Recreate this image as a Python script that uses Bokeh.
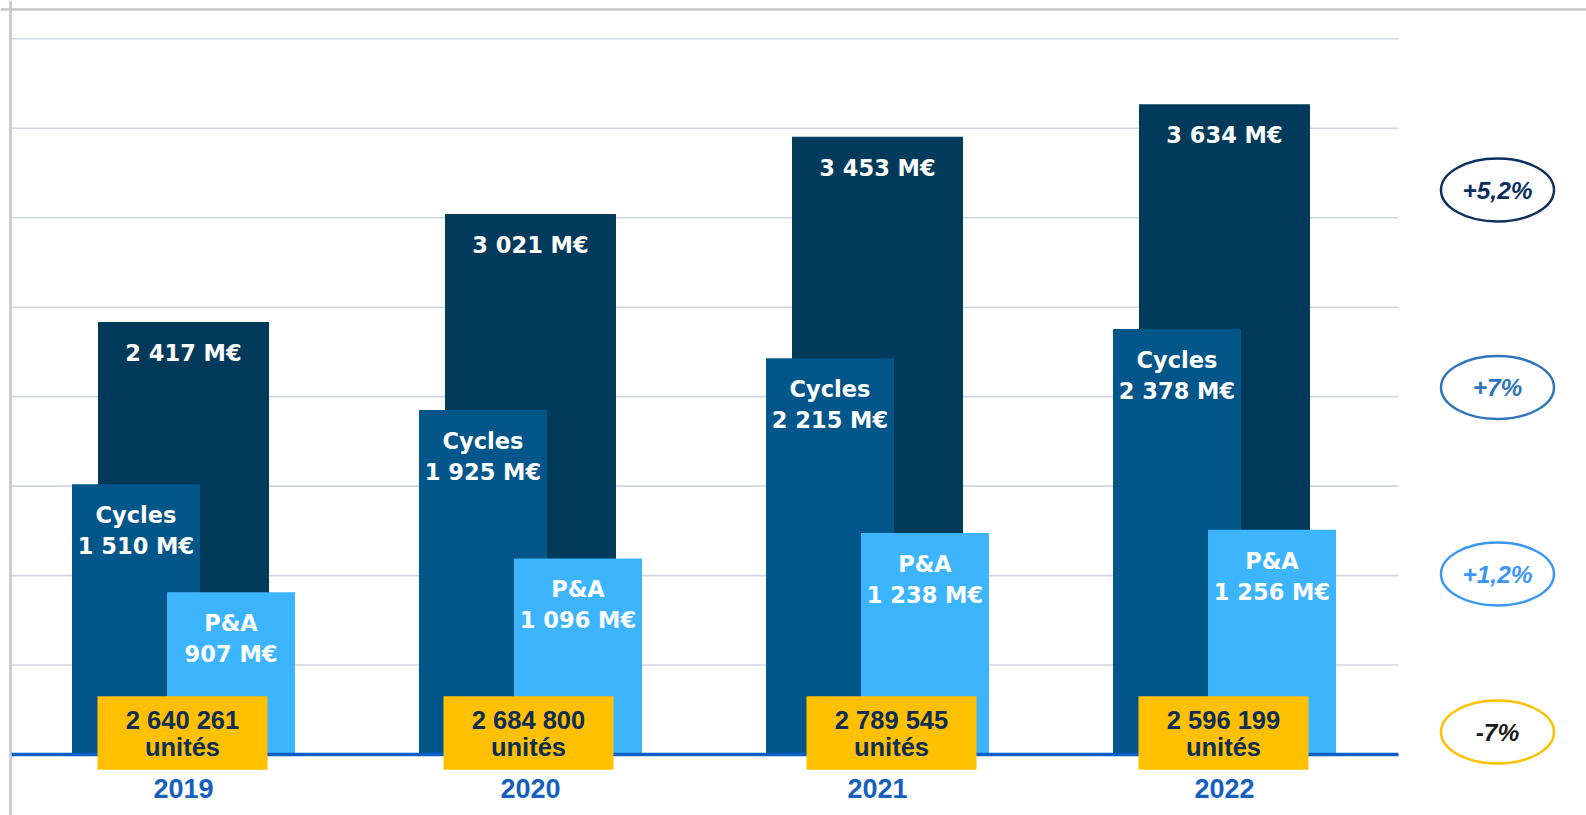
from bokeh.plotting import figure
from bokeh.models import Range1d, Span, ColumnDataSource
from bokeh.core.properties import value
from bokeh.embed import file_html
from bokeh.resources import INLINE

# ---------------- data ----------------
years = ["2019", "2020", "2021", "2022"]
total_values = [2417, 3021, 3453, 3634]      # M€ total
cycles_values = [1510, 1925, 2215, 2378]     # M€ Cycles
pa_values = [907, 1096, 1238, 1256]          # M€ P&A
units_sold = [2640261, 2684800, 2789545, 2596199]
growth_labels = ["+5,2%", "+7%", "+1,2%", "-7%"]
grid_values = [500, 1000, 1500, 2000, 2500, 3000, 3500, 4000]

# ---------------- layout helpers (page pixels -> data) ----------------
X0_PAGE, X_UNIT = 183.0, 347.0          # page x of group 0 centre, px per group
Y0_PAGE, K = 754.0, 89.46 / 500.0       # page y of value 0, px per M€
W, H = 1586, 815


def px_x(page_x):
    return (page_x - X0_PAGE) / X_UNIT


def px_y(page_y):
    return (Y0_PAGE - page_y) / K


def dx(px):
    return px / X_UNIT


def dy(px):
    return px / K


def fmt(v):
    return f"{v:,}".replace(",", " ")


FONT_BAR = value("DejaVu Sans")
FONT = value("Liberation Sans")

C_TOTAL = "#023a5c"
C_CYCLES = "#03568a"
C_PA = "#3db5fe"
C_YELLOW = "#ffc000"
C_BASE = "#0b5fc6"
C_YEAR = "#1560bd"

p = figure(width=W, height=H,
           x_range=Range1d(px_x(0), px_x(W)),
           y_range=Range1d(px_y(H), px_y(0)),
           output_backend="svg", toolbar_location=None,
           x_axis_type=None, y_axis_type=None, min_border=0,
           outline_line_color=None, background_fill_color="white",
           border_fill_color="white")
p.grid.visible = False

idx = list(range(len(years)))

# frame lines (top and left)
p.add_layout(Span(location=px_y(9), dimension="width", line_color="#c6c6c6", line_width=2.5))
p.add_layout(Span(location=px_x(10), dimension="height", line_color="#c6c6c6", line_width=2.5))

# gridlines
p.segment(x0=[px_x(10)] * len(grid_values), x1=[px_x(1398)] * len(grid_values),
          y0=grid_values, y1=grid_values, line_color="#d0d5df", line_width=1.6)

# bars
xc = [i - dx(47.5) for i in idx]
xp = [i + dx(47.5) for i in idx]
src = ColumnDataSource(dict(
    xt=idx, xc=xc, xp=xp,
    total=total_values, cycles=cycles_values, pa=pa_values,
))
p.vbar(x="xt", top="total", bottom=0, width=dx(171), source=src,
       fill_color=C_TOTAL, line_color=None)
p.vbar(x="xc", top="cycles", bottom=0, width=dx(128), source=src,
       fill_color=C_CYCLES, line_color=None)
p.vbar(x="xp", top="pa", bottom=0, width=dx(128), source=src,
       fill_color=C_PA, line_color=None)

# baseline
p.segment(x0=[px_x(10)], x1=[px_x(1398)], y0=[0], y1=[0], line_color=C_BASE, line_width=3.5)

# bar labels
L1, L2 = dy(31), dy(62)
lab = dict(text_font=FONT_BAR, text_font_style="bold", text_font_size="22.5px", text_color="white",
           text_align="center", text_baseline="middle")
p.text(x=idx, y=[v - L1 for v in total_values], text=[fmt(v) + " M€" for v in total_values], **lab)
p.text(x=xc, y=[v - L1 for v in cycles_values], text=["Cycles"] * 4, **lab)
p.text(x=xc, y=[v - L2 for v in cycles_values], text=[fmt(v) + " M€" for v in cycles_values], **lab)
p.text(x=xp, y=[v - L1 for v in pa_values], text=["P&A"] * 4, **lab)
p.text(x=xp, y=[v - L2 for v in pa_values], text=[fmt(v) + " M€" for v in pa_values], **lab)

# unit boxes
box_dx = [-1, -2, 14, -1]
xb = [i + dx(o) for i, o in zip(idx, box_dx)]
yb = px_y(732.5)
p.rect(x=xb, y=[yb] * 4, width=dx(170), height=dy(73.5),
       fill_color=C_YELLOW, line_color=None)
ulab = dict(text_font=FONT, text_font_style="bold", text_font_size="25.5px", text_color="#0e2d57",
            text_align="center", text_baseline="middle")
p.text(x=xb, y=[yb + dy(13.5)] * 4, text=[fmt(u) for u in units_sold], **ulab)
p.text(x=xb, y=[yb - dy(13.5)] * 4, text=["unités"] * 4, **ulab)

# year labels
p.text(x=idx, y=[px_y(788)] * 4, text=years,
       text_font=FONT, text_font_style="bold", text_font_size="27px", text_color=C_YEAR,
       text_align="center", text_baseline="middle")

# growth ellipses
ell_y = [px_y(189.5), px_y(387), px_y(573.5), px_y(731.5)]
ell_line = ["#0c2f5f", "#2f75bc", "#3c97f4", C_YELLOW]
ell_text = ["#0c2f5f", "#2f75bc", "#3c97f4", "#1a1a1a"]
ex = px_x(1497)
p.ellipse(x=[ex] * 4, y=ell_y, width=dx(113), height=dy(63),
          fill_color="white", line_color=ell_line, line_width=2.5)
p.text(x=[ex] * 4, y=ell_y, text=growth_labels,
       text_font=FONT, text_font_style="bold italic", text_font_size="24.5px", text_color=ell_text,
       text_align="center", text_baseline="middle")

open("out.html", "w").write(file_html(p, INLINE))
